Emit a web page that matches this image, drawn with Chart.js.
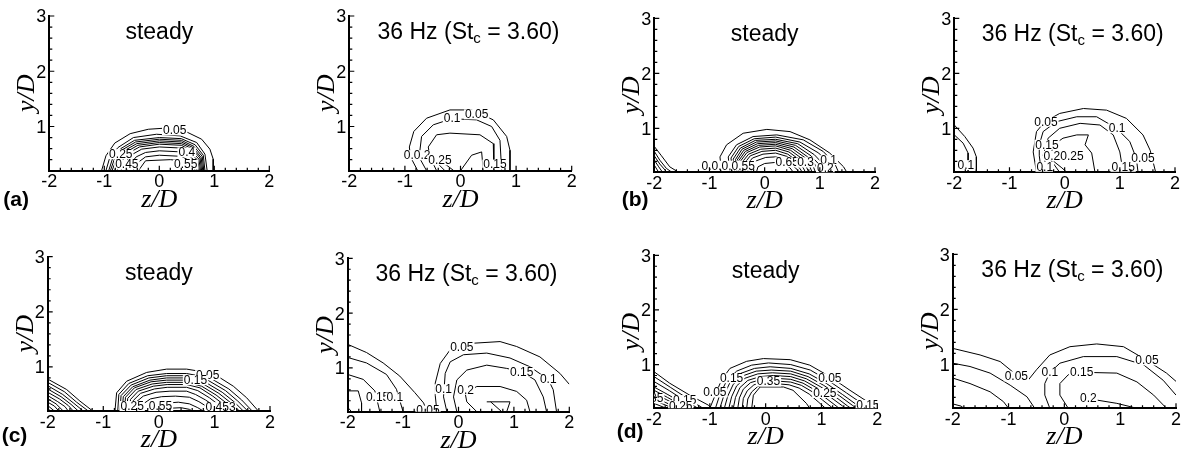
<!DOCTYPE html>
<html>
<head>
<meta charset="utf-8">
<script src="https://cdn.jsdelivr.net/npm/chart.js@4.4.0/dist/chart.umd.min.js"></script>
<style>
  html, body { margin: 0; padding: 0; background: #fff; overflow: hidden; }
  #wrap { position: relative; width: 1188px; height: 452px; overflow: hidden; }
  #wrap canvas { position: absolute; }
</style>
</head>
<body>
<div id="wrap"></div>
<script>
// axis ticks
const zTickLabels = [-2, -1, 0, 1, 2];
const yTickLabels = [1, 2, 3];

// contour lines, each one a list of [z/D, y/D] points
const aSteady = [
  [[-1.05,0.2],[-0.97,0.47],[-0.81,0.7],[-0.53,0.87],[-0.2,0.95],[0.1,0.97],[0.5,0.9],[0.77,0.77],[0.92,0.59],[0.98,0.41],[0.98,0.2]],
  [[-0.97,0.2],[-0.9,0.44],[-0.75,0.62],[-0.47,0.8],[-0.05,0.86],[0.38,0.83],[0.68,0.71],[0.83,0.5],[0.87,0.2]],
  [[-0.92,0.2],[-0.85,0.42],[-0.7,0.6],[-0.45,0.75],[0,0.8],[0.4,0.78],[0.65,0.67],[0.8,0.48],[0.83,0.2]],
  [[-0.89,0.2],[-0.82,0.4],[-0.67,0.58],[-0.43,0.72],[0,0.77],[0.4,0.75],[0.63,0.64],[0.78,0.46],[0.81,0.2]],
  [[-0.86,0.2],[-0.79,0.38],[-0.64,0.56],[-0.41,0.69],[0,0.74],[0.4,0.72],[0.61,0.62],[0.76,0.44],[0.79,0.2]],
  [[-0.82,0.2],[-0.75,0.37],[-0.6,0.54],[-0.39,0.66],[0,0.71],[0.4,0.69],[0.59,0.6],[0.74,0.43],[0.77,0.2]],
  [[-0.77,0.2],[-0.7,0.35],[-0.56,0.52],[-0.36,0.63],[0,0.68],[0.4,0.66],[0.57,0.57],[0.72,0.41],[0.75,0.2]],
  [[-0.7,0.2],[-0.63,0.34],[-0.5,0.49],[-0.32,0.59],[0,0.63],[0.4,0.61],[0.55,0.53],[0.7,0.39],[0.73,0.2]],
  [[-0.6,0.2],[-0.53,0.32],[-0.42,0.45],[-0.25,0.53],[0,0.56],[0.4,0.54],[0.53,0.48],[0.67,0.36],[0.71,0.2]],
  [[-0.48,0.2],[-0.4,0.34],[-0.25,0.45],[0,0.48],[0.4,0.46],[0.55,0.38],[0.66,0.3],[0.68,0.2]],
  [[-0.38,0.2],[-0.25,0.38],[0.2,0.4],[0.5,0.37],[0.63,0.28],[0.65,0.2]]
];
const aSteadyText = [['0.05',0.28,0.93],['0.25',-0.7,0.5],['0.4',0.5,0.53],['0.45',-0.59,0.31],['0.55',0.48,0.31]];

const aPulsed = [
  [[-0.77,0.2],[-0.9,0.45],[-0.92,0.63],[-0.84,0.91],[-0.61,1.15],[-0.19,1.3],[0.2,1.3],[0.59,1.12],[0.83,0.82],[0.89,0.57],[0.89,0.2]],
  [[-0.61,0.2],[-0.72,0.4],[-0.73,0.57],[-0.7,0.82],[-0.49,1.03],[-0.16,1.14],[0.29,1.12],[0.56,1.0],[0.71,0.75],[0.74,0.2]],
  [[-0.43,0.2],[-0.55,0.45],[-0.58,0.63],[-0.43,0.85],[-0.19,0.88],[0.35,0.85],[0.59,0.69],[0.6,0.2]],
  [[-0.56,0.5],[-0.5,0.42],[-0.38,0.3],[-0.28,0.2]],
  [[-0.4,0.37],[-0.25,0.3],[-0.12,0.2]],
  [[0,0.2],[0.2,0.48],[0.38,0.54],[0.41,0.2]]
];
const aPulsedText = [['0.05',0.29,1.22],['0.1',-0.15,1.15],['0.0.2',-0.78,0.48],['0.25',-0.37,0.39],['0.15',0.62,0.31]];

const bSteady = [
  [[-2,0.67],[-1.87,0.5],[-1.72,0.3],[-1.56,0.2]],
  [[-2,0.58],[-1.9,0.42],[-1.78,0.27],[-1.68,0.2]],
  [[-2,0.5],[-1.9,0.35],[-1.77,0.2]],
  [[-2,0.42],[-1.92,0.3],[-1.85,0.2]],
  [[-2,0.33],[-1.92,0.2]],
  [[-0.78,0.2],[-0.81,0.48],[-0.69,0.7],[-0.39,0.91],[0.04,0.98],[0.46,0.94],[0.82,0.79],[1.18,0.55],[1.43,0.3],[1.49,0.2]],
  [[-0.63,0.2],[-0.66,0.48],[-0.51,0.7],[-0.21,0.85],[0.22,0.88],[0.7,0.79],[1.06,0.58],[1.27,0.36],[1.34,0.2]],
  [[-0.58,0.2],[-0.61,0.46],[-0.47,0.67],[-0.19,0.81],[0.2,0.84],[0.64,0.75],[0.98,0.55],[1.17,0.35],[1.22,0.2]],
  [[-0.54,0.2],[-0.57,0.44],[-0.44,0.64],[-0.17,0.78],[0.2,0.8],[0.6,0.72],[0.9,0.52],[1.07,0.34],[1.12,0.2]],
  [[-0.5,0.2],[-0.53,0.43],[-0.41,0.62],[-0.15,0.75],[0.2,0.77],[0.56,0.69],[0.84,0.5],[1.0,0.33],[1.04,0.2]],
  [[-0.47,0.2],[-0.5,0.42],[-0.38,0.6],[-0.13,0.72],[0.2,0.74],[0.53,0.66],[0.78,0.48],[0.93,0.32],[0.97,0.2]],
  [[-0.44,0.2],[-0.47,0.41],[-0.35,0.58],[-0.11,0.69],[0.2,0.71],[0.5,0.63],[0.74,0.46],[0.88,0.31],[0.92,0.2]],
  [[-0.41,0.2],[-0.44,0.4],[-0.32,0.56],[-0.09,0.66],[0.2,0.68],[0.47,0.6],[0.69,0.44],[0.82,0.3],[0.86,0.2]],
  [[-0.38,0.2],[-0.41,0.38],[-0.29,0.53],[-0.07,0.62],[0.2,0.64],[0.44,0.57],[0.64,0.42],[0.76,0.29],[0.8,0.2]],
  [[-0.35,0.2],[-0.37,0.36],[-0.26,0.5],[-0.05,0.58],[0.2,0.6],[0.42,0.53],[0.59,0.4],[0.7,0.28],[0.74,0.2]],
  [[-0.3,0.2],[-0.32,0.34],[-0.22,0.46],[-0.03,0.53],[0.2,0.55],[0.4,0.49],[0.54,0.37],[0.64,0.27],[0.68,0.2]],
  [[-0.24,0.2],[-0.25,0.31],[-0.15,0.41],[0.02,0.47],[0.2,0.48],[0.38,0.43],[0.5,0.33],[0.59,0.25],[0.62,0.2]],
  [[-0.15,0.2],[-0.12,0.3],[0,0.36],[0.2,0.38],[0.36,0.35],[0.46,0.28],[0.52,0.2]]
];
const bSteadyText = [['0.0.0.0.55',-0.66,0.32],['0.65',0.41,0.38],['0.3',0.74,0.38],['0.1',1.16,0.42],['0.2',1.1,0.27]];

const bPulsed = [
  [[-2,1.06],[-1.81,0.85],[-1.66,0.64],[-1.6,0.48],[-1.6,0.2]],
  [[-2,0.88],[-1.84,0.73],[-1.75,0.55],[-1.75,0.2]],
  [[-0.51,0.2],[-0.57,0.57],[-0.51,0.94],[-0.36,1.12],[-0.09,1.27],[0.34,1.36],[0.76,1.33],[1.12,1.18],[1.42,0.88],[1.55,0.6],[1.65,0.2]],
  [[-0.42,0.2],[-0.46,0.5],[-0.46,0.7],[-0.39,0.94],[-0.15,1.12],[0.22,1.21],[0.58,1.21],[0.94,1.0],[1.18,0.76],[1.3,0.45],[1.33,0.2]],
  [[-0.3,0.2],[-0.39,0.51],[-0.3,0.82],[-0.09,1.0],[0.28,1.09],[0.64,1.06],[0.88,0.88],[1.0,0.57],[1.06,0.2]],
  [[-0.09,0.2],[-0.27,0.45],[-0.2,0.7],[-0.03,0.82],[0.22,0.88],[0.43,0.88],[0.37,0.7],[0.49,0.55],[0.55,0.2]],
  [[-0.2,0.4],[-0.05,0.28],[0.04,0.2]]
];
const bPulsedText = [['0.1',-1.79,0.33],['0.05',-0.34,1.12],['0.1',0.95,1.0],['0.15',-0.32,0.7],['0.20.25',-0.02,0.5],['0.1',-0.36,0.3],['0.15',1.06,0.3],['0.05',1.42,0.45]];

const cSteady = [
  [[-2,0.78],[-1.66,0.59],[-1.42,0.38],[-1.19,0.2]],
  [[-2,0.72],[-1.7,0.55],[-1.48,0.36],[-1.27,0.2]],
  [[-2,0.66],[-1.73,0.5],[-1.53,0.34],[-1.36,0.2]],
  [[-2,0.6],[-1.76,0.46],[-1.58,0.32],[-1.45,0.2]],
  [[-2,0.54],[-1.79,0.42],[-1.63,0.3],[-1.54,0.2]],
  [[-2,0.48],[-1.82,0.37],[-1.69,0.28],[-1.63,0.2]],
  [[-2,0.42],[-1.85,0.33],[-1.72,0.2]],
  [[-2,0.36],[-1.88,0.29],[-1.8,0.2]],
  [[-2,0.3],[-1.88,0.2]],
  [[-2,0.25],[-1.95,0.2]],
  [[-0.79,0.2],[-0.76,0.53],[-0.58,0.74],[-0.22,0.9],[0.14,0.96],[0.5,0.96],[0.98,0.88],[1.34,0.65],[1.58,0.44],[1.79,0.2]],
  [[-0.74,0.2],[-0.72,0.5],[-0.54,0.7],[-0.2,0.84],[0.14,0.88],[0.5,0.88],[0.92,0.8],[1.26,0.6],[1.49,0.4],[1.68,0.2]],
  [[-0.7,0.2],[-0.68,0.48],[-0.5,0.67],[-0.18,0.8],[0.14,0.84],[0.5,0.84],[0.88,0.76],[1.2,0.57],[1.42,0.38],[1.6,0.2]],
  [[-0.66,0.2],[-0.64,0.46],[-0.47,0.64],[-0.16,0.76],[0.14,0.8],[0.5,0.8],[0.84,0.72],[1.14,0.54],[1.35,0.37],[1.52,0.2]],
  [[-0.62,0.2],[-0.6,0.45],[-0.44,0.62],[-0.14,0.73],[0.14,0.76],[0.5,0.76],[0.8,0.69],[1.08,0.52],[1.28,0.36],[1.45,0.2]],
  [[-0.58,0.2],[-0.56,0.43],[-0.41,0.59],[-0.12,0.69],[0.14,0.72],[0.5,0.72],[0.77,0.65],[1.03,0.49],[1.22,0.34],[1.38,0.2]],
  [[-0.53,0.2],[-0.51,0.41],[-0.37,0.56],[-0.1,0.65],[0.15,0.68],[0.5,0.68],[0.74,0.62],[0.97,0.47],[1.15,0.33],[1.3,0.2]],
  [[-0.48,0.2],[-0.46,0.39],[-0.33,0.52],[-0.08,0.6],[0.15,0.63],[0.5,0.63],[0.7,0.57],[0.91,0.44],[1.08,0.31],[1.22,0.2]],
  [[-0.42,0.2],[-0.4,0.37],[-0.28,0.47],[-0.05,0.54],[0.2,0.56],[0.5,0.56],[0.66,0.5],[0.84,0.4],[1.0,0.29],[1.12,0.2]],
  [[-0.3,0.2],[-0.28,0.33],[-0.15,0.42],[0.05,0.46],[0.3,0.47],[0.55,0.45],[0.72,0.37],[0.88,0.27],[0.98,0.2]],
  [[-0.12,0.2],[-0.08,0.29],[0.1,0.34],[0.35,0.36],[0.55,0.33],[0.7,0.26],[0.8,0.2]],
  [[0.1,0.2],[0.2,0.25],[0.4,0.26],[0.55,0.23],[0.6,0.2]]
];
const cSteadyText = [['0.05',0.88,0.85],['0.15',0.66,0.76],['0.25',-0.48,0.29],['0.55',0.03,0.29],['0.453',1.11,0.27]];

const cPulsed = [
  [[-2,1.43],[-1.66,1.28],[-1.36,1.09],[-1.06,0.85],[-0.79,0.55],[-0.63,0.36],[-0.57,0.2]],
  [[-2,1.19],[-1.66,1.09],[-1.3,0.88],[-1.12,0.61],[-1.0,0.2]],
  [[-2,0.88],[-1.72,0.79],[-1.51,0.58],[-1.42,0.2]],
  [[-2,0.58],[-1.81,0.58],[-1.75,0.36],[-1.75,0.2]],
  [[-2,0.28],[-1.93,0.2]],
  [[-0.39,0.2],[-0.42,0.5],[-0.42,0.72],[-0.33,1.08],[-0.15,1.33],[0.27,1.45],[0.75,1.48],[1.05,1.39],[1.47,1.2],[1.83,0.9],[2.0,0.7]],
  [[-0.21,0.2],[-0.27,0.47],[-0.24,0.9],[-0.15,1.11],[0.09,1.24],[0.51,1.27],[0.93,1.18],[1.29,1.02],[1.62,0.79],[1.71,0.6],[1.77,0.2]],
  [[-0.03,0.2],[-0.09,0.47],[-0.03,0.78],[0.15,0.96],[0.51,1.05],[0.87,0.99],[1.14,0.93],[1.38,0.78],[1.53,0.47],[1.59,0.2]],
  [[0.33,0.2],[0.15,0.38],[0.12,0.54],[0.33,0.66],[0.75,0.66],[1.05,0.57],[1.23,0.41],[1.29,0.2]],
  [[0.51,0.38],[0.93,0.38],[0.87,0.2]],
  [[0.58,0.38],[0.78,0.2]]
];
const cPulsedText = [['0.05',0.06,1.38],['0.15',1.14,0.93],['0.1',1.62,0.79],['0.1',-0.27,0.61],['0.2',0.13,0.6],['0.05',-0.55,0.22],['0.15',-1.46,0.46],['0.1',-1.15,0.46]];

const dSteady = [
  [[-2,0.87],[-1.72,0.66],[-1.36,0.44],[-1.03,0.26],[-0.97,0.2]],
  [[-2,0.78],[-1.7,0.58],[-1.4,0.38],[-1.12,0.2]],
  [[-2,0.69],[-1.72,0.52],[-1.45,0.34],[-1.21,0.2]],
  [[-2,0.59],[-1.75,0.45],[-1.5,0.3],[-1.3,0.2]],
  [[-2,0.53],[-1.76,0.4],[-1.55,0.28],[-1.39,0.2]],
  [[-2,0.47],[-1.78,0.36],[-1.6,0.26],[-1.48,0.2]],
  [[-2,0.41],[-1.8,0.31],[-1.57,0.2]],
  [[-2,0.35],[-1.82,0.27],[-1.66,0.2]],
  [[-2,0.29],[-1.78,0.2]],
  [[-1.0,0.2],[-0.9,0.45],[-0.79,0.72],[-0.64,0.93],[-0.34,1.06],[-0.04,1.11],[0.44,1.09],[0.79,0.99],[1.15,0.78],[1.51,0.53],[1.87,0.29],[2.0,0.22]],
  [[-0.9,0.2],[-0.82,0.45],[-0.7,0.7],[-0.52,0.88],[-0.25,0.99],[0.05,1.03],[0.45,1.0],[0.8,0.9],[1.12,0.71],[1.45,0.48],[1.75,0.27],[1.85,0.2]],
  [[-0.82,0.2],[-0.75,0.43],[-0.64,0.67],[-0.47,0.83],[-0.2,0.93],[0.08,0.96],[0.45,0.93],[0.78,0.83],[1.08,0.66],[1.38,0.45],[1.65,0.25],[1.73,0.2]],
  [[-0.74,0.2],[-0.68,0.42],[-0.58,0.64],[-0.42,0.79],[-0.17,0.88],[0.1,0.9],[0.45,0.88],[0.76,0.78],[1.04,0.62],[1.32,0.43],[1.56,0.25],[1.63,0.2]],
  [[-0.66,0.2],[-0.61,0.41],[-0.52,0.61],[-0.37,0.75],[-0.14,0.83],[0.12,0.85],[0.45,0.83],[0.73,0.74],[0.99,0.59],[1.25,0.41],[1.47,0.24],[1.53,0.2]],
  [[-0.58,0.2],[-0.54,0.4],[-0.46,0.58],[-0.32,0.71],[-0.1,0.78],[0.14,0.8],[0.45,0.78],[0.7,0.7],[0.94,0.56],[1.18,0.39],[1.38,0.24],[1.43,0.2]],
  [[-0.5,0.2],[-0.47,0.39],[-0.4,0.55],[-0.27,0.67],[-0.07,0.73],[0.16,0.75],[0.45,0.73],[0.67,0.66],[0.89,0.53],[1.1,0.37],[1.28,0.23],[1.32,0.2]],
  [[-0.42,0.2],[-0.4,0.38],[-0.33,0.52],[-0.21,0.63],[-0.03,0.68],[0.18,0.7],[0.45,0.68],[0.64,0.62],[0.84,0.5],[1.02,0.35],[1.17,0.23],[1.2,0.2]],
  [[-0.34,0.2],[-0.32,0.37],[-0.25,0.5],[-0.14,0.6],[0.02,0.64],[0.2,0.65],[0.42,0.63],[0.6,0.57],[0.78,0.46],[0.94,0.32],[1.05,0.22],[1.08,0.2]],
  [[-0.25,0.2],[-0.22,0.44],[-0.1,0.59],[0.32,0.59],[0.49,0.53],[0.73,0.29],[0.79,0.2]]
];
const dSteadyText = [['0.35',-2.04,0.38],['0.15',-1.45,0.35],['0.25',-1.52,0.24],['0.05',-0.91,0.49],['0.15',-0.61,0.75],['0.35',0.05,0.69],['0.05',1.15,0.75],['0.25',1.06,0.48],['0.15',1.83,0.26]];

const dPulsed = [
  [[-2,1.29],[-1.51,1.17],[-1.15,1.05],[-0.85,0.8],[-0.65,0.71],[-0.5,0.9],[-0.26,1.17],[0.1,1.32],[0.58,1.37],[1.06,1.32],[1.48,1.07],[1.83,0.84],[2.0,0.69]],
  [[-2,1.02],[-1.69,0.96],[-1.33,0.84],[-0.97,0.62],[-0.67,0.41],[-0.53,0.2]],
  [[-2,0.75],[-1.69,0.65],[-1.33,0.5],[-1.09,0.32],[-1.0,0.2]],
  [[-2,0.28],[-1.85,0.24],[-1.8,0.2]],
  [[-0.26,0.2],[-0.35,0.44],[-0.35,0.65],[-0.26,0.85],[-0.08,1.02],[0.34,1.14],[0.94,1.14],[1.42,0.99],[1.77,0.71],[2.0,0.44]],
  [[0.07,0.2],[-0.08,0.44],[-0.08,0.65],[0.07,0.81],[0.31,0.85],[0.52,0.85],[0.94,0.84],[1.3,0.68],[1.6,0.44],[1.83,0.2]],
  [[0.58,0.35],[0.94,0.29],[1.3,0.2]]
];
const dPulsedText = [['0.05',-0.86,0.78],['0.1',-0.26,0.85],['0.15',0.31,0.85],['0.05',1.48,1.07],['0.2',0.43,0.38]];

// layout of the eight panels on the page (page pixels)
const AXW = 40, AXH = 41, CANVAS_H = 240;
const panels = [
  { lines: aSteady, text: aSteadyText, kind: 'steady', box: [0, 0, 300],   area: [49.3, 269.3, 16, 170.7],   tag: ['(a)', 3.3, 200] },
  { lines: aPulsed, text: aPulsedText, kind: 'pulsed', box: [300, 0, 290], area: [349.3, 571.7, 16, 170.7] },
  { lines: bSteady, text: bSteadyText, kind: 'steady', box: [590, 0, 300], area: [654.3, 875, 18.3, 172.3],  tag: ['(b)', 621.7, 200] },
  { lines: bPulsed, text: bPulsedText, kind: 'pulsed', box: [890, 0, 298], area: [954.3, 1175, 18.3, 172.3] },
  { lines: cSteady, text: cSteadyText, kind: 'steady', box: [0, 226, 300],   area: [47.7, 270, 256.7, 411],    tag: ['(c)', 1.7, 436] },
  { lines: cPulsed, text: cPulsedText, kind: 'pulsed', box: [300, 226, 290], area: [347.7, 569.3, 258.3, 411.7] },
  { lines: dSteady, text: dSteadyText, kind: 'steady', box: [590, 226, 300], area: [654, 877.3, 255.3, 408.3],  tag: ['(d)', 616.7, 432.7] },
  { lines: dPulsed, text: dPulsedText, kind: 'pulsed', box: [890, 226, 298], area: [952.7, 1176, 254.3, 408.3] }
];

const SANS = '"Liberation Sans", Arial, Helvetica, sans-serif';
const SERIF = '"Liberation Serif", "Times New Roman", serif';
Chart.defaults.font.family = SANS;
Chart.defaults.font.size = 18;
Chart.defaults.color = '#000';
const panelOf = new Map();

const decor = {
  id: 'decor',
  afterDatasetsDraw(chart) {
    const p = panelOf.get(chart.canvas);
    const ctx = chart.ctx, ca = chart.chartArea;
    const xs = chart.scales.x, ys = chart.scales.y;
    // contour level labels, on a white patch like the original
    ctx.save();
    ctx.beginPath();
    ctx.rect(ca.left, ca.top, ca.right - ca.left, ca.bottom - ca.top);
    ctx.clip();
    ctx.font = '12px ' + SANS;
    ctx.textAlign = 'center';
    ctx.textBaseline = 'middle';
    p.text.forEach(([t, z, y]) => {
      const px = xs.getPixelForValue(z), py = ys.getPixelForValue(y);
      const w = ctx.measureText(t).width;
      ctx.fillStyle = '#fff';
      ctx.fillRect(px - w / 2 - 1, py - 5, w + 2, 10);
      ctx.fillStyle = '#000';
      ctx.fillText(t, px, py + 0.5);
    });
    ctx.restore();
  },
  afterDraw(chart) {
    const p = panelOf.get(chart.canvas);
    const ctx = chart.ctx, ca = chart.chartArea;
    const xs = chart.scales.x, ys = chart.scales.y;
    const [bx, by] = p.box;
    ctx.save();
    // inward tick marks, minor every 0.2
    ctx.strokeStyle = '#000';
    ctx.lineWidth = 1.2;
    ctx.beginPath();
    for (let i = -10; i <= 10; i++) {
      const px = xs.getPixelForValue(i / 5);
      const len = i % 5 === 0 ? 5 : 3;
      ctx.moveTo(px, ca.bottom);
      ctx.lineTo(px, ca.bottom - len);
    }
    for (let i = 2; i <= 15; i++) {
      const py = ys.getPixelForValue(i / 5);
      const len = i % 5 === 0 ? 5 : 3;
      ctx.moveTo(ca.left, py);
      ctx.lineTo(ca.left + len, py);
    }
    ctx.stroke();

    // panel title
    ctx.fillStyle = '#000';
    ctx.textBaseline = 'alphabetic';
    const cx = (ca.left + ca.right) / 2;
    const base = ca.top + 23;
    if (p.kind === 'steady') {
      ctx.font = '23px ' + SANS;
      ctx.textAlign = 'center';
      ctx.fillText('steady', cx, base);
    } else {
      const a = '36 Hz (St', s = 'c', b = ' = 3.60)';
      ctx.font = '23px ' + SANS;
      const wa = ctx.measureText(a).width, wb = ctx.measureText(b).width;
      ctx.font = '15px ' + SANS;
      const ws = ctx.measureText(s).width;
      let x = cx + 8 - (wa + ws + wb) / 2;
      ctx.textAlign = 'left';
      ctx.font = '23px ' + SANS;
      ctx.fillText(a, x, base);
      x += wa;
      ctx.font = '15px ' + SANS;
      ctx.fillText(s, x, base + 4);
      x += ws;
      ctx.font = '23px ' + SANS;
      ctx.fillText(b, x, base);
    }

    // (a) ... (d)
    if (p.tag) {
      ctx.font = 'bold 21px ' + SANS;
      ctx.textAlign = 'left';
      ctx.textBaseline = 'middle';
      ctx.fillText(p.tag[0], p.tag[1] - bx, p.tag[2] - by);
    }
    ctx.restore();
  }
};

const tickFont = { family: SANS, size: 18, lineHeight: 1.2 };

const wrap = document.getElementById('wrap');
panels.forEach(p => {
  const [bx, by, bw] = p.box;
  const [L, R, T, B] = p.area;
  const c = document.createElement('canvas');
  c.width = bw; c.height = CANVAS_H;
  c.style.left = bx + 'px'; c.style.top = by + 'px';
  c.style.width = bw + 'px'; c.style.height = CANVAS_H + 'px';
  wrap.appendChild(c);
  panelOf.set(c, p);

  new Chart(c, {
    type: 'scatter',
    data: {
      datasets: p.lines.map(pts => ({
        data: pts,
        showLine: true,
        borderColor: '#000',
        borderWidth: 1,
        pointRadius: 0,
        tension: 0,
        fill: false
      }))
    },
    options: {
      responsive: false,
      animation: false,
      devicePixelRatio: 1,
      events: [],
      layout: {
        padding: { left: L - bx - AXW, right: bx + bw - R, top: T - by, bottom: by + CANVAS_H - B - AXH }
      },
      plugins: { legend: { display: false }, tooltip: { enabled: false } },
      scales: {
        x: {
          type: 'linear', min: -2, max: 2,
          afterBuildTicks: s => { s.ticks = zTickLabels.map(v => ({ value: v })); },
          afterFit: s => { s.height = AXH; },
          grid: { display: false, drawTicks: false },
          border: { display: true, color: '#000', width: 2 },
          ticks: { color: '#000', font: tickFont, padding: 1, maxRotation: 0, autoSkip: false },
          title: { display: true, text: 'z/D', color: '#000', padding: { top: 0, bottom: 0.3 },
                   font: { family: SERIF, style: 'italic', size: 26, lineHeight: 0.9 } }
        },
        y: {
          type: 'linear', min: 0.2, max: 3,
          afterBuildTicks: s => { s.ticks = yTickLabels.map(v => ({ value: v })); },
          afterFit: s => { s.width = AXW; },
          grid: { display: false, drawTicks: false },
          border: { display: true, color: '#000', width: 2 },
          ticks: { color: '#000', font: tickFont, padding: 3, labelOffset: 1.5, autoSkip: false },
          title: { display: true, text: 'y/D', color: '#000', padding: { top: 6.3, bottom: 0 },
                   font: { family: SERIF, style: 'italic', size: 26, lineHeight: 0.9 } }
        }
      }
    },
    plugins: [decor]
  });
});
</script>
</body>
</html>
